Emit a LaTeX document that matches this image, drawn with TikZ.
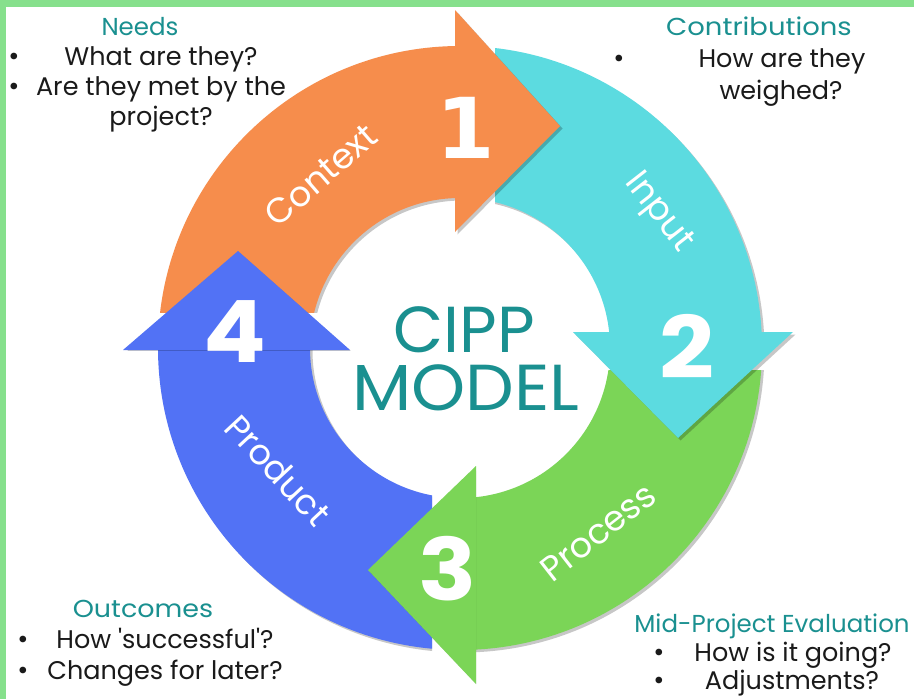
\documentclass[tikz,border=0pt]{standalone}
\usepackage{fontspec}
\setmainfont{Poppins}
\newfontfamily\plainfont{Poppins}[Ligatures=TeXOff]
\newfontfamily\onefont{DejaVu Sans}
\definecolor{cOrange}{HTML}{F68D4C}
\definecolor{cCyan}{HTML}{5CDBE0}
\definecolor{cGreen}{HTML}{7BD557}
\definecolor{cBlue}{HTML}{5272F5}
\definecolor{cTeal}{HTML}{1A9090}
\definecolor{cBorder}{HTML}{86E08C}
\definecolor{cText}{HTML}{1A1A1A}
\begin{document}
\begin{tikzpicture}[x=1pt,y=-1pt,
  ttl/.style={text=cTeal, font=\fontsize{24.5}{28}\selectfont, inner sep=0pt, anchor=base},
  txt/.style={text=cText, font=\fontsize{25.5}{28}\selectfont, inner sep=0pt, anchor=base},
  bul/.style={text=cText, font=\fontsize{27}{30}\selectfont, inner sep=0pt, anchor=base},
  num/.style={text=white, font=\fontsize{86}{90}\selectfont\bfseries, inner sep=0pt, anchor=base},
  ringlbl/.style={text=white, font=\fontsize{35}{38}\selectfont, inner sep=0pt, anchor=center},
  bigttl/.style={text=cTeal, font=\fontsize{65}{68}\selectfont, inner sep=0pt, anchor=base},
  shd/.style={fill=black, opacity=0.22},
  ring/.style={even odd rule}]
\path[use as bounding box] (0,0) rectangle (914,699);
\fill[cBorder] (0,0) rectangle (914,699);
\fill[white] (6,7) rectangle (914,699);

% ring bodies
\begin{scope}
  \clip (0,0) rectangle (455,312);
  \fill[shd, ring] (462.5,350.5) circle[radius=302pt] (462.5,350.5) circle[radius=150pt];
  \fill[cOrange, ring] (460,348) circle[radius=302pt] (460,348) circle[radius=150pt];
\end{scope}
\begin{scope}
  \clip (495,0) rectangle (914,332);
  \fill[shd, ring] (462.5,350.5) circle[radius=302pt] (462.5,350.5) circle[radius=150pt];
  \fill[cCyan, ring] (460,348) circle[radius=302pt] (460,348) circle[radius=150pt];
\end{scope}
\begin{scope}
  \clip (476,370) rectangle (914,699);
  \fill[shd, ring] (462.5,350.5) circle[radius=302pt] (462.5,350.5) circle[radius=150pt];
  \fill[cGreen, ring] (460,348) circle[radius=302pt] (460,348) circle[radius=150pt];
\end{scope}
\begin{scope}
  \clip (0,350) rectangle (432,699);
  \fill[shd, ring] (462.5,350.5) circle[radius=302pt] (462.5,350.5) circle[radius=150pt];
  \fill[cBlue, ring] (460,348) circle[radius=302pt] (460,348) circle[radius=150pt];
\end{scope}

% arrowheads
\begin{scope}
  \clip (455,0) rectangle (914,699);
  \fill[shd, shift={(2.5,2.5)}] (455,10) -- (560,126) -- (455,232) -- cycle;
\end{scope}
\fill[cOrange] (455,10) -- (560,126) -- (455,232) -- cycle;
\begin{scope}
  \clip (0,332) rectangle (914,699);
  \fill[shd, shift={(2.5,2.5)}] (573,332) -- (678,438) -- (793,332) -- cycle;
\end{scope}
\fill[cCyan] (573,332) -- (678,438) -- (793,332) -- cycle;
\begin{scope}
  \clip (0,0) rectangle (476,699);
  \fill[shd, shift={(2.5,2.5)}] (476,466) -- (368,570) -- (476,684) -- cycle;
\end{scope}
\fill[cGreen] (476,466) -- (368,570) -- (476,684) -- cycle;
\begin{scope}
  \clip (0,0) rectangle (914,350);
  \fill[shd, shift={(2.5,2.5)}] (123,350) -- (238,251) -- (350,350) -- cycle;
\end{scope}
\fill[cBlue] (123,350) -- (238,251) -- (350,350) -- cycle;

% numbers
\node[num, font=\fontsize{84}{88}\selectfont\bfseries\onefont] (n1) at (466,158) {1};
\node[num] (n2) at (687,378) {\scalebox{1.12}[1]{2}};
\node[num] (n3) at (448,600) {\scalebox{1.12}[1]{3}};
\node[num] (n4) at (235,362) {\scalebox{1.08}[1]{4}};

% ring labels
\node[ringlbl, rotate=41] (lctx) at (321,175) {Context};
\node[ringlbl, rotate=-52] (linp) at (658,213) {Input};
\node[ringlbl, rotate=38] (lproc) at (598,532) {Process};
\node[ringlbl, rotate=-47] (lprod) at (278,470) {Product};

% centre title
\node[bigttl] (cipp) at (464,352) {CIPP};
\node[bigttl] (model) at (466,410) {\scalebox{1.06}[1]{MODEL}};

% top-left
\node[ttl] (needs) at (140,35) {Needs};
\node[bul] (b1) at (14,65) {\textbullet};
\node[txt] (t1) at (161,65) {What are they?};
\node[bul] (b2) at (14,95) {\textbullet};
\node[txt] (t2) at (161,95) {Are they met by the};
\node[txt] (t3) at (161,125) {project?};

% top-right
\node[ttl] (contr) at (759,35) {\scalebox{1.12}[1]{Contributions}};
\node[bul] (b3) at (619,67) {\textbullet};
\node[txt] (t4) at (782,67) {How are they};
\node[txt] (t5) at (781,99) {weighed?};

% bottom-left
\node[ttl] (outc) at (143,617) {\scalebox{1.1}[1]{Outcomes}};
\node[bul] (b4) at (23,648) {\textbullet};
\node[txt] (t6) at (165,648) {\plainfont How 'successful'?};
\node[bul] (b5) at (23,679) {\textbullet};
\node[txt] (t7) at (165,679) {Changes for later?};

% bottom-right
\node[ttl] (mid) at (772,632) {Mid-Project Evaluation};
\node[bul] (b6) at (659,661) {\textbullet};
\node[txt] (t8) at (793,661) {How is it going?};
\node[bul] (b7) at (659,689) {\textbullet};
\node[txt] (t9) at (792,689) {Adjustments?};
\end{tikzpicture}
\end{document}
